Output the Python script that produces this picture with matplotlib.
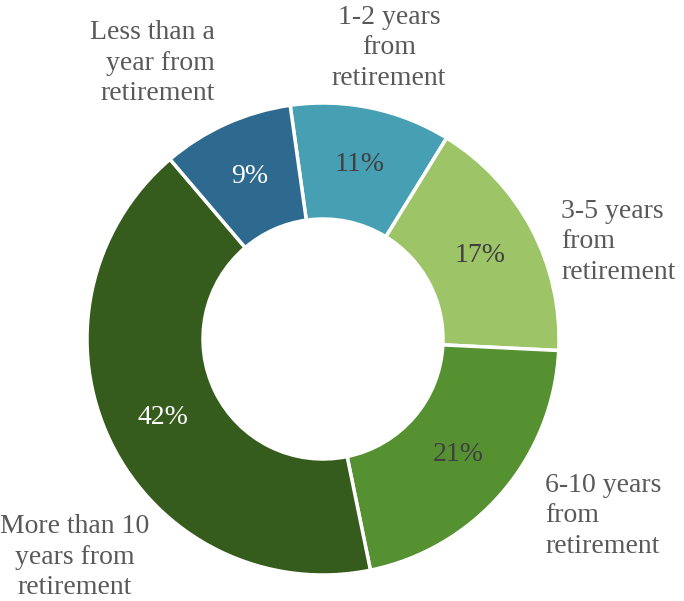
import matplotlib
matplotlib.use("Agg")
import matplotlib.pyplot as plt
import numpy as np

categories = ["1-2 years\nfrom\nretirement", "3-5 years\nfrom\nretirement",
              "6-10 years\nfrom\nretirement", "More than 10\nyears from\nretirement",
              "Less than a\nyear from\nretirement"]
values = [11, 17, 21, 42, 9]
pct_labels = ["11%", "17%", "21%", "42%", "9%"]
colors = ["#479FB3", "#9DC466", "#559131", "#365C1D", "#2E6A8F"]
pct_colors = ["#404040", "#404040", "#404040", "#FFFFFF", "#FFFFFF"]

W, H = 684, 601
fig = plt.figure(figsize=(W / 100, H / 100), dpi=100)
ax = fig.add_axes([0, 0, 1, 1])

# layout in pixels (y measured from the bottom)
cx, cy, R = 323, H - 339, 236
hole = 120
START = 98
FONT = "Liberation Serif"

wedges, _ = ax.pie(values, colors=colors, startangle=START, counterclock=False,
                   radius=R, center=(cx, cy),
                   wedgeprops=dict(width=R - hole, edgecolor="white", linewidth=2.5))
ax.set_xlim(0, W)
ax.set_ylim(0, H)
ax.set_aspect("equal")
ax.axis("off")

# percent labels at the ring middle
cum = 0
mid_r = (R + hole) / 2
for v, lab, c in zip(values, pct_labels, pct_colors):
    ang = np.deg2rad(START - (cum + v / 2) / sum(values) * 360)
    cum += v
    x = cx + mid_r * np.cos(ang)
    y = cy + mid_r * np.sin(ang)
    ax.text(x, y, lab, ha="center", va="center", color=c, fontsize=20,
            family=FONT)

# outer category labels (layout positions in px from top-left)
label_pos = [(389, 48, "center"), (561, 242, "left"), (545, 516, "left"),
             (75, 557, "center"), (215, 63, "right")]
for cat, (x, y, ha) in zip(categories, label_pos):
    ax.text(x, H - y, cat, ha=ha, va="center", color="#595959", fontsize=20,
            family=FONT, multialignment=ha, linespacing=1.27)

fig.savefig("out.png", dpi=100, facecolor="white")
